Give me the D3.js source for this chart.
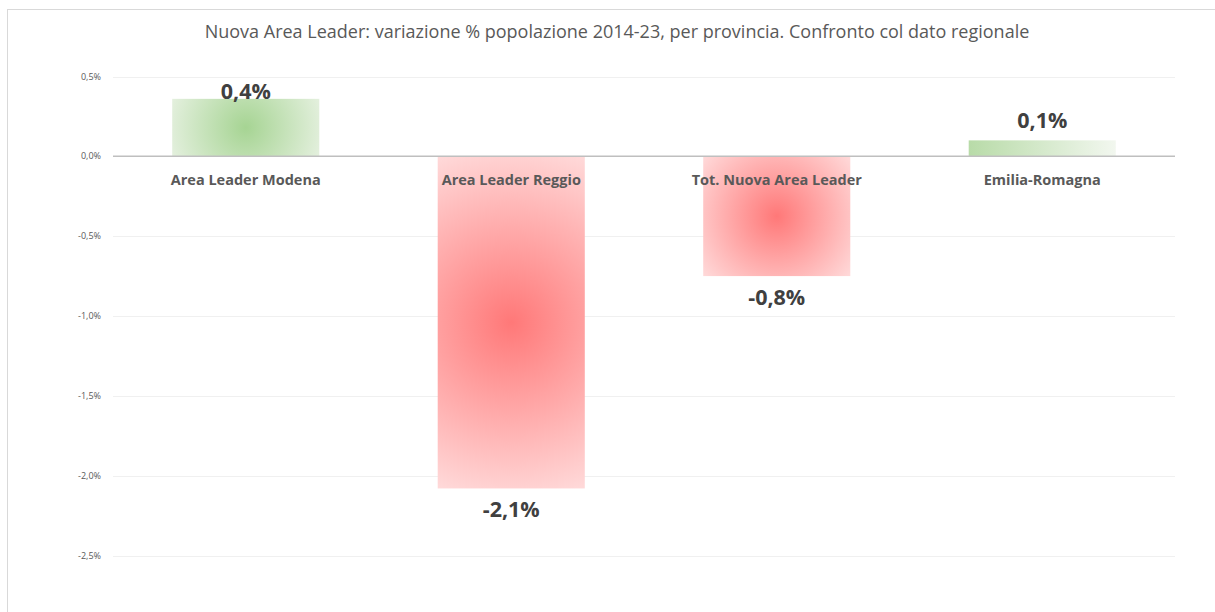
<!DOCTYPE html>
<html>
<head>
<meta charset="utf-8">
<script src="https://cdn.jsdelivr.net/npm/d3@7"></script>
<style>
  body { margin: 0; background: #fff; }
  svg { display: block; }
</style>
</head>
<body>
<svg id="chart" width="1215" height="612"></svg>
<script>
const categories = ['Area Leader Modena', 'Area Leader Reggio', 'Tot. Nuova Area Leader', 'Emilia-Romagna']
const values = [0.36, -2.08, -0.75, 0.10]
const valueLabels = ['0,4%', '-2,1%', '-0,8%', '0,1%']
const yTicks = [0.5, 0, -0.5, -1, -1.5, -2, -2.5]
const title = 'Nuova Area Leader: variazione % popolazione 2014-23, per provincia. Confronto col dato regionale'

const font = '"Open Sans", "Noto Sans", sans-serif'
const svg = d3.select('#chart')

// outer frame
svg.append('rect')
  .attr('x', 7.5).attr('y', 9.5)
  .attr('width', 1300).attr('height', 700)
  .attr('fill', '#fff')
  .attr('stroke', '#d9d9d9')

const x = d3.scaleBand()
  .domain(categories)
  .range([113, 1175])
  .paddingInner(0.446)
  .paddingOuter(0.223)

const y = d3.scaleLinear()
  .domain([-2.5, 0.5])
  .range([555.5, 76.5])

// gridlines
svg.append('g')
  .selectAll('line')
  .data(yTicks.filter(d => d !== 0))
  .join('line')
  .attr('x1', 113).attr('x2', 1175)
  .attr('y1', d => Math.round(y(d)) + 0.5)
  .attr('y2', d => Math.round(y(d)) + 0.5)
  .attr('stroke', '#f0f0f0')
  .attr('stroke-width', 1)

// tick labels
const fmt = d => d3.format('.1f')(d).replace('.', ',').replace('−', '-') + '%'
svg.append('g')
  .selectAll('text')
  .data(yTicks)
  .join('text')
  .attr('x', 101)
  .attr('y', d => y(d))
  .attr('dy', '0.35em')
  .attr('text-anchor', 'end')
  .attr('font-family', font)
  .attr('font-size', 9)
  .attr('fill', '#595959')
  .text(fmt)

// gradients
const defs = svg.append('defs')
categories.forEach((c, i) => {
  const v = values[i]
  const x0 = x(c), w = x.bandwidth()
  const y0 = y(Math.max(0, v)), h = Math.abs(y(v) - y(0))
  const cx = x0 + w / 2, cy = y0 + h / 2
  if (c === 'Emilia-Romagna') {
    const g = defs.append('linearGradient')
      .attr('id', 'grad' + i)
      .attr('x1', 0).attr('x2', 1).attr('y1', 0).attr('y2', 0)
    g.append('stop').attr('offset', '0%').attr('stop-color', '#b8dba8')
    g.append('stop').attr('offset', '100%').attr('stop-color', '#f2f7ef')
    return
  }
  const r = Math.sqrt((w / 2) ** 2 + (h / 2) ** 2)
  const g = defs.append('radialGradient')
    .attr('id', 'grad' + i)
    .attr('gradientUnits', 'userSpaceOnUse')
    .attr('cx', cx).attr('cy', cy).attr('r', r)
  if (v < 0) {
    g.append('stop').attr('offset', '0%').attr('stop-color', '#ff7878')
    g.append('stop').attr('offset', '100%').attr('stop-color', '#ffdada')
  } else {
    g.append('stop').attr('offset', '0%').attr('stop-color', '#a6d493')
    g.append('stop').attr('offset', '100%').attr('stop-color', '#e4f0de')
  }
})

// bars
svg.append('g')
  .selectAll('rect')
  .data(values)
  .join('rect')
  .attr('x', (d, i) => x(categories[i]))
  .attr('width', x.bandwidth())
  .attr('y', d => y(Math.max(0, d)))
  .attr('height', d => Math.abs(y(d) - y(0)))
  .attr('fill', (d, i) => `url(#grad${i})`)

// zero line
svg.append('line')
  .attr('x1', 113).attr('x2', 1175)
  .attr('y1', y(0)).attr('y2', y(0))
  .attr('stroke', '#bfbfbf')
  .attr('stroke-width', 1.5)

// category labels
svg.append('g')
  .selectAll('text')
  .data(categories)
  .join('text')
  .attr('x', d => x(d) + x.bandwidth() / 2)
  .attr('y', y(0) + 29)
  .attr('text-anchor', 'middle')
  .attr('font-family', font)
  .attr('font-size', 14.5)
  .attr('font-weight', 'bold')
  .attr('fill', '#595959')
  .text(d => d)

// value labels (kept inside the plot top)
svg.append('g')
  .selectAll('text')
  .data(values)
  .join('text')
  .attr('x', (d, i) => x(categories[i]) + x.bandwidth() / 2)
  .attr('y', d => d >= 0 ? Math.max(y(d) - 12, y(0.5) + 22) : y(d) + 29)
  .attr('text-anchor', 'middle')
  .attr('font-family', font)
  .attr('font-size', 21.5)
  .attr('font-weight', 'bold')
  .attr('fill', '#404040')
  .text((d, i) => valueLabels[i])

// title
svg.append('text')
  .attr('x', 617)
  .attr('y', 38)
  .attr('text-anchor', 'middle')
  .attr('font-family', font)
  .attr('font-size', 18)
  .attr('fill', '#595959')
  .text(title)
</script>
</body>
</html>
